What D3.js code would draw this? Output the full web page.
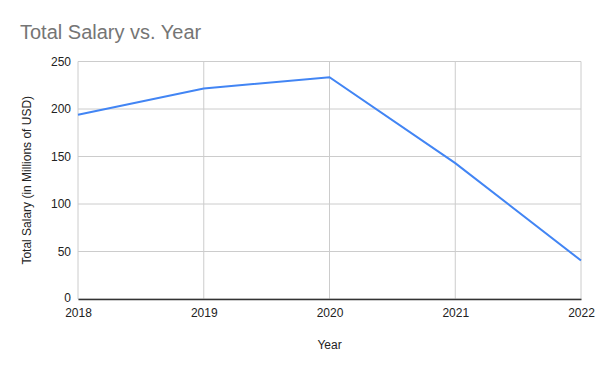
<!DOCTYPE html>
<html>
<head>
<meta charset="utf-8">
<script src="https://cdn.jsdelivr.net/npm/d3@7"></script>
<style>
body { margin: 0; background: #fff; }
text { font-family: Arial, "Liberation Sans", sans-serif; }
</style>
</head>
<body>
<svg id="chart" width="600" height="371"></svg>
<script>
var years = ["2018", "2019", "2020", "2021", "2022"]
var salary = [194, 221.5, 233.5, 143, 40.5]
var yTicks = [0, 50, 100, 150, 200, 250]

var svg = d3.select("#chart")
var margin = {top: 61.5, right: 19, bottom: 72, left: 78}
var w = 600 - margin.left - margin.right
var h = 371 - margin.top - margin.bottom

svg.append("rect").attr("width", 600).attr("height", 371).attr("fill", "#fff")

svg.append("text")
    .attr("x", 20).attr("y", 39)
    .attr("font-size", 20).attr("fill", "#757575")
    .text("Total Salary vs. Year")

var g = svg.append("g").attr("transform", "translate(" + margin.left + "," + margin.top + ")")

var x = d3.scalePoint().domain(years).range([0, w])
var y = d3.scaleLinear().domain([0, 250]).range([h, 0])

// gridlines
g.selectAll(".hgrid").data(yTicks).enter().append("line")
    .attr("x1", 0).attr("x2", w)
    .attr("y1", d => y(d)).attr("y2", d => y(d))
    .attr("stroke", "#cccccc").attr("stroke-width", 1)
g.selectAll(".vgrid").data(years).enter().append("line")
    .attr("x1", d => x(d)).attr("x2", d => x(d))
    .attr("y1", 0).attr("y2", h)
    .attr("stroke", "#cccccc").attr("stroke-width", 1)

// axes
var yAxis = g.append("g").call(d3.axisLeft(y).tickValues(yTicks).tickSize(0).tickPadding(7))
yAxis.select(".domain").remove()
yAxis.selectAll("text").attr("font-size", 12).attr("fill", "#222").attr("font-family", "Arial, 'Liberation Sans', sans-serif")
yAxis.selectAll("text").filter(d => d === 0).attr("dy", "0.2em")

var xAxis = g.append("g").attr("transform", "translate(0," + h + ")")
    .call(d3.axisBottom(x).tickSize(0).tickPadding(9))
xAxis.select(".domain").attr("stroke", "#333").attr("stroke-width", 1.3)
xAxis.selectAll("text").attr("font-size", 12).attr("fill", "#222").attr("font-family", "Arial, 'Liberation Sans', sans-serif")

// line
var line = d3.line().x((d, i) => x(years[i])).y(d => y(d))
g.append("path").datum(salary)
    .attr("d", line)
    .attr("fill", "none")
    .attr("stroke", "#4285f4")
    .attr("stroke-width", 2)

// axis titles
svg.append("text")
    .attr("x", margin.left + w / 2).attr("y", 349)
    .attr("text-anchor", "middle").attr("font-size", 12).attr("fill", "#222")
    .text("Year")
svg.append("text")
    .attr("transform", "translate(31," + (margin.top + h / 2) + ") rotate(-90)")
    .attr("text-anchor", "middle").attr("font-size", 12).attr("fill", "#222")
    .text("Total Salary (in Millions of USD)")
</script>
</body>
</html>
